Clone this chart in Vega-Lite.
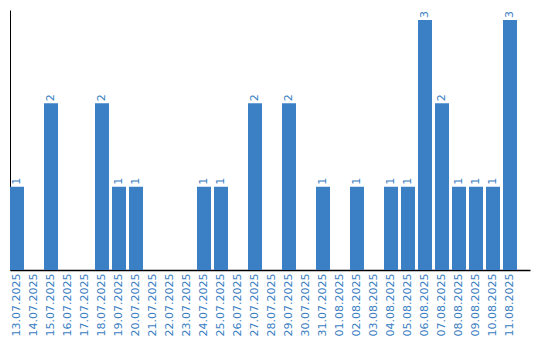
{
  "$schema": "https://vega.github.io/schema/vega-lite/v6.json",
  "width": 520,
  "height": 260,
  "autosize": "none",
  "padding": {"left": 10, "top": 10, "right": 10, "bottom": 70},
  "background": "white",
  "config": {"view": {"stroke": null}, "font": "DejaVu Sans"},
  "data": {"values": [
    {"date": "13.07.2025", "count": 1},
    {"date": "14.07.2025", "count": 0},
    {"date": "15.07.2025", "count": 2},
    {"date": "16.07.2025", "count": 0},
    {"date": "17.07.2025", "count": 0},
    {"date": "18.07.2025", "count": 2},
    {"date": "19.07.2025", "count": 1},
    {"date": "20.07.2025", "count": 1},
    {"date": "21.07.2025", "count": 0},
    {"date": "22.07.2025", "count": 0},
    {"date": "23.07.2025", "count": 0},
    {"date": "24.07.2025", "count": 1},
    {"date": "25.07.2025", "count": 1},
    {"date": "26.07.2025", "count": 0},
    {"date": "27.07.2025", "count": 2},
    {"date": "28.07.2025", "count": 0},
    {"date": "29.07.2025", "count": 2},
    {"date": "30.07.2025", "count": 0},
    {"date": "31.07.2025", "count": 1},
    {"date": "01.08.2025", "count": 0},
    {"date": "02.08.2025", "count": 1},
    {"date": "03.08.2025", "count": 0},
    {"date": "04.08.2025", "count": 1},
    {"date": "05.08.2025", "count": 1},
    {"date": "06.08.2025", "count": 3},
    {"date": "07.08.2025", "count": 2},
    {"date": "08.08.2025", "count": 1},
    {"date": "09.08.2025", "count": 1},
    {"date": "10.08.2025", "count": 1},
    {"date": "11.08.2025", "count": 3}
  ]},
  "encoding": {
    "x": {
      "field": "date", "type": "ordinal", "sort": null,
      "scale": {"paddingInner": 0.176, "paddingOuter": 0.382, "align": 0},
      "axis": {
        "title": null, "labelAngle": -90, "labelColor": "#3a7ec2", "labelFontSize": 11,
        "ticks": false, "labelPadding": 3, "domainColor": "black", "domainWidth": 1.5, "grid": false
      }
    },
    "y": {
      "field": "count", "type": "quantitative",
      "scale": {"domain": [0, 3.12], "nice": false},
      "axis": {
        "title": null, "labels": false, "ticks": false, "grid": false,
        "domainColor": "black", "domainWidth": 1
      }
    }
  },
  "layer": [
    {"mark": {"type": "bar", "color": "#3b7fc4"}},
    {
      "transform": [{"filter": "datum.count > 0"}],
      "mark": {"type": "text", "angle": -90, "align": "left", "baseline": "middle", "dx": 2, "color": "#3a7ec2", "fontSize": 11},
      "encoding": {"text": {"field": "count", "type": "quantitative"}}
    }
  ]
}
